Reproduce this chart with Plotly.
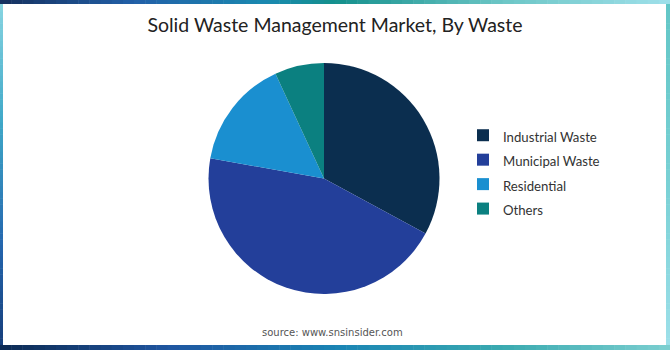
import plotly.graph_objects as go

# ---- data ----
labels = ["Industrial Waste", "Municipal Waste", "Residential", "Others"]
values = [32.9, 44.9, 15.3, 6.9]
colors = ["#0b2e4f", "#233f9a", "#1a8fd0", "#0b8080"]

title_text = "Solid Waste Management Market, By Waste"
source_text = "source: www.snsinsider.com"

W, H = 670, 350


def lerp_color(stops, t):
    for i in range(len(stops) - 1):
        p0, c0 = stops[i]
        p1, c1 = stops[i + 1]
        if p0 <= t <= p1:
            f = 0 if p1 == p0 else (t - p0) / (p1 - p0)
            c = [round(c0[k] + (c1[k] - c0[k]) * f) for k in range(3)]
            return "rgb(%d,%d,%d)" % tuple(c)
    return "rgb(%d,%d,%d)" % stops[-1][1]


def hx(s):
    s = s.lstrip("#")
    return tuple(int(s[i:i + 2], 16) for i in (0, 2, 4))


top_stops = [(0, hx("#15305e")), (0.2, hx("#2260a8")), (0.4, hx("#1a8ab0")),
             (0.5, hx("#14908c")), (0.75, hx("#6cc6c6")), (1, hx("#9fe0ea"))]
bottom_stops = [(0, hx("#0c2a52")), (0.25, hx("#1f55a0")), (0.5, hx("#1a84b4")),
                (0.75, hx("#3aaab0")), (1, hx("#7ccfd0"))]
left_stops = [(0, hx("#8ad6e2")), (0.35, hx("#3fa8c8")), (0.7, hx("#2466ae")), (1, hx("#163c78"))]
right_stops = [(0, hx("#62c6c6")), (0.5, hx("#78d0d4")), (1, hx("#9ee0ea"))]

shapes = []
N = 60
L_, R_, T_, B_ = 3, 666, 4, 345  # inner white box, px


def rect(x0, y0, x1, y1, color):
    return dict(type="rect", xref="paper", yref="paper", layer="below",
                x0=x0 / W, x1=x1 / W, y0=1 - y1 / H, y1=1 - y0 / H,
                fillcolor=color, line=dict(width=0))


for i in range(N):
    xa, xb = W * i / N, W * (i + 1) / N + 0.5
    t = (i + 0.5) / N
    shapes.append(rect(xa, 0, xb, T_ + 1, lerp_color(top_stops, t)))
    shapes.append(rect(xa, B_ - 1, xb, H, lerp_color(bottom_stops, t)))
for i in range(N):
    ya, yb = H * i / N, H * (i + 1) / N + 0.5
    t = (i + 0.5) / N
    shapes.append(rect(0, max(ya, T_), L_ + 1, min(yb, B_), lerp_color(left_stops, t)))
    shapes.append(rect(R_ - 1, max(ya, T_), W, min(yb, B_), lerp_color(right_stops, t)))
shapes.append(rect(L_, T_, R_, B_, "white"))

legend_labels = ['<span style="font-size:13.2px">%s</span>' % l for l in labels]

fig = go.Figure(go.Pie(
    labels=legend_labels,
    values=values,
    marker=dict(colors=colors, line=dict(width=0)),
    sort=False,
    direction="clockwise",
    rotation=0,
    textinfo="none",
    hoverinfo="label+percent",
    domain=dict(x=[208.5 / W, 439.5 / W], y=[56 / H, 287 / H]),
))

fig.update_layout(
    width=W, height=H,
    margin=dict(l=0, r=0, t=0, b=0),
    paper_bgcolor="white",
    plot_bgcolor="white",
    shapes=shapes,
    title=dict(text=title_text, x=0.5, xanchor="center", y=1 - 25 / H, yanchor="middle",
               font=dict(family="Lato", size=19.5, color="#222222")),
    legend=dict(x=463 / W, xanchor="left", y=1 - 118 / H, yanchor="top",
                font=dict(family="Lato", size=16.5, color="#333333"),
                bgcolor="rgba(0,0,0,0)"),
    annotations=[dict(text=source_text, xref="paper", yref="paper",
                      x=332 / W, y=1 - 332 / H, xanchor="center", yanchor="middle",
                      showarrow=False,
                      font=dict(family="DejaVu Sans", size=10, color="#555555"))],
)

fig.write_html("out.html")
